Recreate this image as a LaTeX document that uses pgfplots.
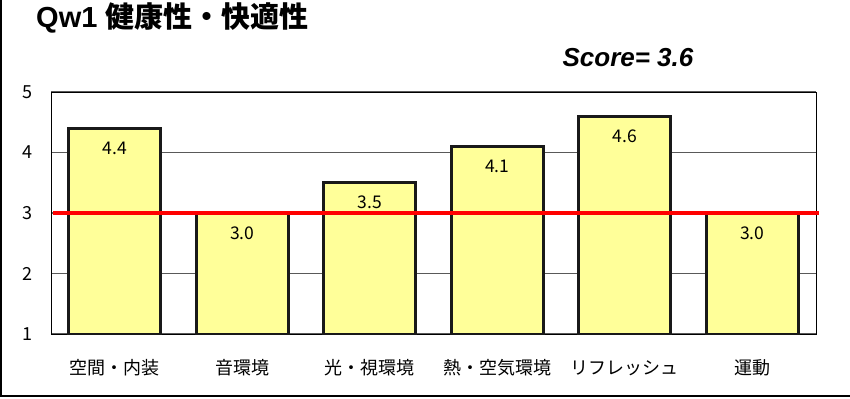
\documentclass[border=0pt]{standalone}
\usepackage{pgfplots}
\pgfplotsset{compat=1.18}
\usepackage{fontspec}
\setmainfont{Noto Sans CJK JP}
\newfontfamily\cjk{Noto Sans CJK JP}
\newfontfamily\arial{Liberation Sans}
\definecolor{baryellow}{HTML}{FFFF99}
\begin{document}
\begin{tikzpicture}[x=1bp,y=1bp]
\path[use as bounding box] (0,0) rectangle (850,398);
\draw[line width=1.5bp] (1,398) -- (1,2) -- (850,2);
\node[anchor=west,inner sep=0pt] at (36,380) {\fontsize{29bp}{31bp}\selectfont\arial\bfseries Qw1 \cjk\bfseries 健康性・快適性};
\node[inner sep=0pt] at (628,340) {\fontsize{26bp}{28bp}\selectfont\arial\bfseries\itshape Score= 3.6};
\begin{axis}[
  at={(51bp,64bp)}, anchor=south west,
  scale only axis, width=765bp, height=242bp,
  xmin=-0.5, xmax=5.5, ymin=1, ymax=5,
  ytick={1,2,3,4,5},
  xtick={0,1,2,3,4,5},
  xticklabels={空間・内装,音環境,光・視環境,熱・空気環境,リフレッシュ,運動},
  major tick length=0pt,
  ymajorgrids,
  major grid style={draw=gray!70!black, line width=1.5bp},
  axis line style={line width=1bp},
  /pgf/number format/assume math mode=true,
  tick label style={font=\fontsize{18bp}{20bp}\selectfont},
  xticklabel style={anchor=center, yshift=-34bp},
  yticklabel style={anchor=center, xshift=-24bp},
  clip=false,
]
\addplot[ybar, bar width=92bp, fill=baryellow, draw=black!90, line width=2.8bp,
  nodes near coords,
  nodes near coords style={font=\fontsize{17.5bp}{19bp}\selectfont, anchor=center, yshift=-20bp,
    /pgf/number format/.cd, fixed, fixed zerofill, precision=1, assume math mode=true},
] coordinates {(0,4.4) (1,3.0) (2,3.5) (3,4.1) (4,4.6) (5,3.0)};
\addplot[red, line width=4bp] coordinates {(-0.484,3) (5.52,3)};
\end{axis}
\end{tikzpicture}
\end{document}
